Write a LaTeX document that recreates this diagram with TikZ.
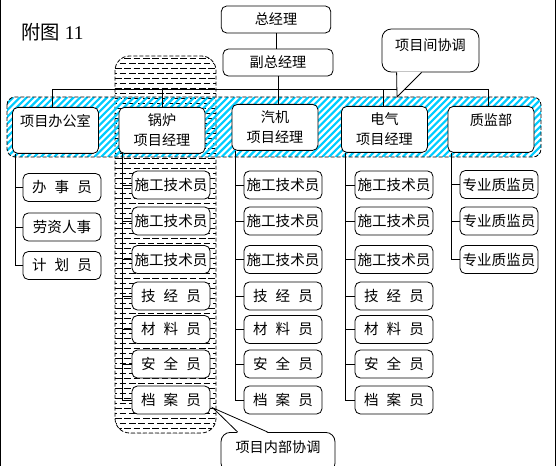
\documentclass[tikz,border=0pt]{standalone}
\usepackage{fontspec}
\setmainfont{Liberation Serif}
\newfontfamily\cjk{Noto Sans CJK SC}
\definecolor{hatchblue}{RGB}{0,204,255}
\newcommand{\gp}{\hspace{0.55em}}

\begin{document}
\begin{tikzpicture}[x=0.75pt,y=-0.75pt,line width=0.6pt,
    card/.style={draw,fill=white,rounded corners=4pt,inner sep=0pt,font=\cjk\fontsize{10.6}{15}\selectfont},
    topcard/.style={card,minimum width=82pt,minimum height=20.25pt},
    headcard/.style={card,anchor=north,align=center,minimum width=64.5pt,minimum height=34.5pt},
    staff/.style={card,minimum width=58.5pt,minimum height=21pt,font=\cjk\fontsize{10.9}{13}\selectfont},
    bubble/.style={card,rounded corners=7pt,text height=8pt,text depth=8pt}]
  \useasboundingbox (0,0) rectangle (556,466);
  \draw (0.5,0) -- (0.5,466) (555.5,0) -- (555.5,466);

  \node (fig) at (52.5,32) {\fontsize{14.5}{17}\selectfont{\cjk 附图} 11};

  % boiler project: internal coordination area
  \begin{scope}
    \clip[rounded corners=11pt] (115,56) rectangle (216,433);
    \foreach \r [evaluate=\r as \ph using {mod(\r,2)*3.5}] in {0,...,76}
      \draw[dash pattern=on 5pt off 2pt,dash phase=\ph pt] (115,58+\r*5) -- (216,58+\r*5);
  \end{scope}
  \draw[dash pattern=on 3pt off 1.5pt,rounded corners=11pt] (115,56) rectangle (216,433);

  % project band
  \begin{scope}
    \clip[rounded corners=6pt] (7,97) rectangle (541,157);
    \foreach \i in {0,...,92}
      \draw[hatchblue,line width=1.6pt] (\i*6.7-53,157) -- ++(60,-60);
  \end{scope}
  \draw[dash pattern=on 3pt off 1.5pt,rounded corners=6pt] (7,97) rectangle (541,157);

  \node[topcard] (gm) at (276,19.5) {总经理};
  \node[topcard,minimum width=82.5pt] (dgm) at (278,62.5) {副总经理};

  \node[headcard] (office) at (55.5,107) {项目办公室\\\mbox{}};
  \node[headcard] (boiler) at (162,107) {锅炉\\项目经理};
  \node[headcard] (turbine) at (275,104) {汽机\\项目经理};
  \node[headcard] (electric) at (384.5,106) {电气\\项目经理};
  \node[headcard] (quality) at (491,106) {质监部\\\mbox{}};

  \coordinate (bus) at (0,89);
  \draw (gm.south) -- (gm.south |- dgm.north);
  \draw (dgm.south |- dgm.south) -- (dgm.south |- turbine.north);
  \draw ([xshift=-2.6pt]office.north) -- ([xshift=-2.6pt]office.north |- bus)
     -- ([xshift=-2.2pt]quality.north |- bus) -- ([xshift=-2.2pt]quality.north);
  \draw (boiler.north) -- (boiler.north |- bus);
  \draw ([xshift=-1pt]electric.north) -- ([xshift=-1pt]electric.north |- bus);

  % staff under each head
  \foreach \t/\y [count=\i] in {办\gp 事\gp 员/187.5, 劳资人事/227, 计\gp 划\gp 员/265.5} {
    \node[staff] (office-\i) at (62,\y) {\t};
    \draw ([xshift=2.25pt]office.south west) |- (office-\i.west);
  }
  \foreach \h/\cx in {boiler/171, turbine/283, electric/394}
    \foreach \t/\y [count=\i] in {施工技术员/185, 施工技术员/221, 施工技术员/259.5, 技\gp 经\gp 员/296,
        材\gp 料\gp 员/329.5, 安\gp 全\gp 员/364, 档\gp 案\gp 员/400} {
      \node[staff] (\h-\i) at (\cx,\y) {\t};
      \draw ([xshift=3.2pt]\h.south west) |- (\h-\i.west);
    }
  \foreach \y [count=\i] in {184.5, 221, 259.5} {
    \node[staff] (quality-\i) at (499,\y) {专业质监员};
    \draw ([xshift=3pt]quality.south west) |- (quality-\i.west);
  }

  % coordination callouts
  \node[bubble,minimum width=72.75pt,minimum height=32.25pt] (across) at (430.5,50.5) {项目间协调};
  \coordinate (tipA) at (397,97);
  \fill[white] ([xshift=11.25pt,yshift=0.6pt]across.south west) -- (tipA)
     -- ([xshift=30pt,yshift=0.6pt]across.south west) -- cycle;
  \draw ([xshift=11.25pt]across.south west) -- (tipA) -- ([xshift=30pt]across.south west);

  \node[bubble,anchor=north,minimum width=85.5pt,minimum height=30pt] (inside) at (278,432) {项目内部协调};
  \coordinate (tipB) at (213,408);
  \fill[white] ([xshift=12.75pt,yshift=-0.6pt]inside.north west) -- (tipB)
     -- ([xshift=35.25pt,yshift=-0.6pt]inside.north west) -- cycle;
  \draw ([xshift=12.75pt]inside.north west) -- (tipB) -- ([xshift=35.25pt]inside.north west);
\end{tikzpicture}
\end{document}
